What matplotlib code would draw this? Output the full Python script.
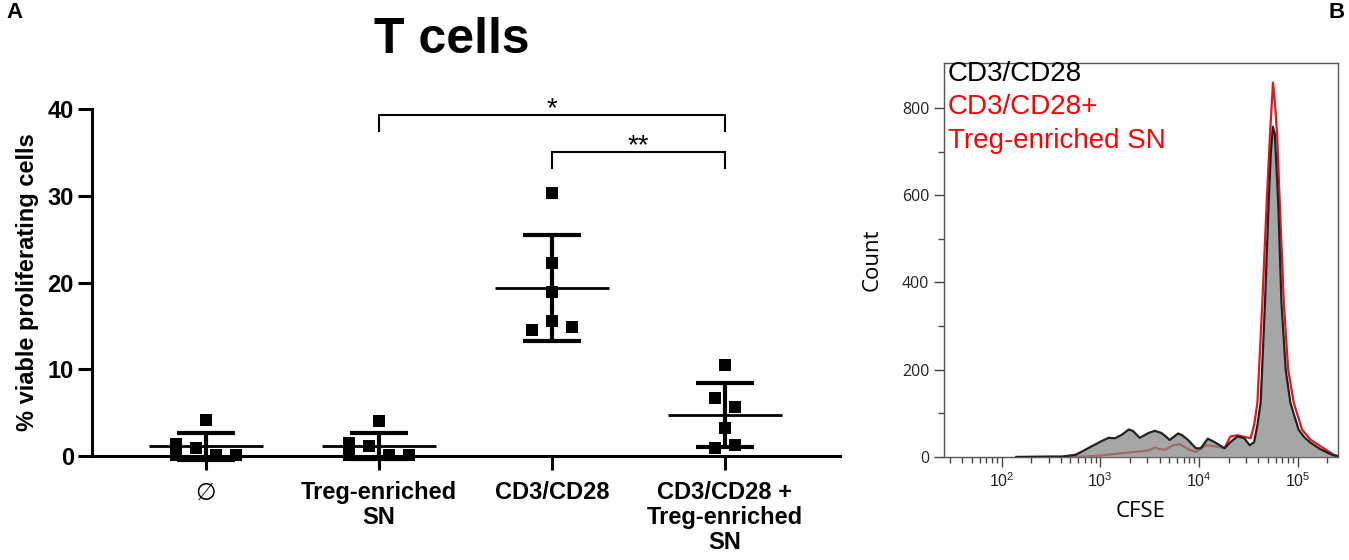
import numpy as np
import matplotlib
matplotlib.use("Agg")
import matplotlib.pyplot as plt
from matplotlib.ticker import FixedLocator, FixedFormatter, LogLocator, NullFormatter

# ---------------- data ----------------
groups = ["\u2205", "Treg-enriched\nSN", "CD3/CD28", "CD3/CD28 +\nTreg-enriched\nSN"]
g_none = [1.4, 0.1, 0.9, 4.15, 0.1, 0.1]
g_treg = [1.5, 0.1, 1.2, 4.0, 0.1, 0.1]
g_cd3 = [30.3, 22.2, 18.95, 15.6, 14.5, 14.85]
g_cd3_treg = [10.5, 6.65, 5.7, 3.2, 0.9, 1.27]
yticks_a = [0, 10, 20, 30, 40]
sig_pairs = [(1, 3, 39.3, "*"), (2, 3, 35.0, "**")]

cfse_log_black = [2.15, 2.49, 2.61, 2.75, 2.81, 2.91, 3.01, 3.085, 3.15, 3.22, 3.29, 3.33,
                  3.37, 3.40, 3.49, 3.555, 3.62, 3.66, 3.705, 3.79, 3.83, 3.89, 3.97, 4.02,
                  4.09, 4.16, 4.26, 4.32, 4.39, 4.46, 4.515, 4.56, 4.593, 4.626, 4.67, 4.707,
                  4.73, 4.75, 4.77, 4.804, 4.837, 4.88, 4.928, 5.01, 5.07, 5.13, 5.23, 5.36, 5.41]
count_black = [0, 1, 1, 5, 12, 24, 36, 44, 43, 51, 63, 60,
               51, 44, 55, 60, 55, 48, 39, 54, 50, 39, 20, 20,
               42, 34, 20, 34, 47, 43, 27, 34, 73, 124, 353, 582,
               700, 757, 740, 582, 353, 200, 124, 63, 45, 33, 18, 4, 2]
cfse_log_red = [2.15, 2.6, 2.85, 2.99, 3.15, 3.32, 3.49, 3.555, 3.60, 3.66, 3.74, 3.81,
                3.91, 3.97, 4.07, 4.17, 4.26, 4.32, 4.39, 4.46, 4.525, 4.56, 4.593, 4.643,
                4.687, 4.72, 4.751, 4.775, 4.794, 4.82, 4.861, 4.905, 4.962, 5.045, 5.13,
                5.23, 5.36, 5.41]
count_red = [0, 0, 1, 3, 7, 11, 15, 22, 18, 17, 27, 29,
             16, 12, 27, 24, 20, 47, 50, 46, 43, 73, 124, 353,
             582, 735, 858, 800, 735, 582, 353, 200, 124, 63, 40,
             25, 6, 2]
yticks_b = [0, 200, 400, 600, 800]
xticks_b = [1e2, 1e3, 1e4, 1e5]
xticklabels_b = [r"$\mathregular{10^{2}}$", r"$\mathregular{10^{3}}$",
                 r"$\mathregular{10^{4}}$", r"$\mathregular{10^{5}}$"]

# ---------------- style ----------------
plt.rcParams["font.family"] = ["Liberation Sans", "DejaVu Sans"]
plt.rcParams["mathtext.fontset"] = "custom"
plt.rcParams["mathtext.rm"] = "Open Sans"

fig = plt.figure(figsize=(13.49, 5.6), dpi=100)

# ---------------- panel A ----------------
axA = fig.add_axes([92 / 1349, 1 - 456 / 560, (840 - 92) / 1349, (456 - 109) / 560])
data = [g_none, g_treg, g_cd3, g_cd3_treg]
offsets = [
    [-0.173, -0.173, -0.058, 0.0, 0.058, 0.173],
    [-0.173, -0.173, -0.058, 0.0, 0.058, 0.173],
    [0.0, 0.0, 0.0, 0.0, -0.116, 0.116],
    [0.0, -0.058, 0.058, 0.0, -0.058, 0.058],
]
for i, vals in enumerate(data):
    v = np.asarray(vals)
    m = v.mean()
    sd = v.std(ddof=1)
    axA.scatter(i + np.asarray(offsets[i]), v, marker="s", s=70, color="black",
                zorder=4, clip_on=False, linewidths=0)
    axA.plot([i - 0.33, i + 0.33], [m, m], color="black", lw=2.0, zorder=3,
             solid_capstyle="butt", clip_on=False)
    axA.plot([i, i], [m - sd, m + sd], color="black", lw=3.0, zorder=3,
             solid_capstyle="butt", clip_on=False)
    for y in (m - sd, m + sd):
        axA.plot([i - 0.165, i + 0.165], [y, y], color="black", lw=3.0, zorder=3,
                 solid_capstyle="butt", clip_on=False)

for a, b, y, s in sig_pairs:
    axA.plot([a, a, b, b], [y - 1.8, y, y, y - 1.8], color="black", lw=1.5,
             clip_on=False, solid_joinstyle="miter")
    axA.text((a + b) / 2, y - 0.15, s, ha="center", va="baseline", fontsize=20,
             clip_on=False)

axA.set_xlim(-0.659, 3.665)
axA.set_ylim(0, 40)
axA.spines["top"].set_visible(False)
axA.spines["right"].set_visible(False)
for sp in ("left", "bottom"):
    axA.spines[sp].set_linewidth(2.2)
axA.set_yticks(yticks_a)
axA.set_yticklabels([str(t) for t in yticks_a], fontsize=17, fontweight="bold")
axA.set_xticks(range(len(groups)))
axA.set_xticklabels(groups, fontsize=17, fontweight="bold", linespacing=1.1,
                    va="top")
axA.get_xticklabels()[0].set_fontweight("normal")
axA.get_xticklabels()[0].set_family(["DejaVu Sans"])
axA.tick_params(axis="both", direction="out", length=10, width=2.2)
axA.tick_params(axis="x", pad=8)
axA.tick_params(axis="y", pad=3)
axA.set_ylabel("% viable proliferating cells", fontsize=17, fontweight="bold",
               labelpad=6)
axA.set_facecolor("none")

fig.text(452 / 1349, 1 - 40 / 560, "T cells", fontsize=36, fontweight="bold",
         ha="center", va="center")
fig.text(6 / 1349, 1 - 12 / 560, "A", fontsize=16, fontweight="bold",
         ha="left", va="center")
fig.text(1345 / 1349, 1 - 12 / 560, "B", fontsize=16, fontweight="bold",
         ha="right", va="center")

# ---------------- panel B ----------------
axB = fig.add_axes([944 / 1349, 1 - 457 / 560, (1338 - 944) / 1349, (457 - 63) / 560])
xb = 10 ** np.asarray(cfse_log_black)
xr = 10 ** np.asarray(cfse_log_red)
axB.plot(xr, count_red, color="#e8151b", lw=1.6, zorder=2)
axB.fill_between(xb, 0, count_black, color="#888888", alpha=0.75, lw=0, zorder=3)
axB.plot(xb, count_black, color="#222222", lw=1.6, zorder=4)

axB.set_xscale("log")
axB.set_xlim(10 ** 1.417, 10 ** 5.41)
axB.set_ylim(0, 903)
axB.xaxis.set_major_locator(FixedLocator(xticks_b))
axB.xaxis.set_major_formatter(FixedFormatter(xticklabels_b))
axB.xaxis.set_minor_locator(LogLocator(base=10, subs=np.arange(2, 10)))
axB.xaxis.set_minor_formatter(NullFormatter())
axB.set_yticks(yticks_b)
axB.set_yticks([100, 300, 500, 700], minor=True)
for sp in axB.spines.values():
    sp.set_color("#555555")
    sp.set_linewidth(1.0)
axB.tick_params(axis="both", which="major", direction="out", length=7, width=1,
                color="#444444", labelsize=11.5, labelcolor="#222222")
axB.tick_params(axis="both", which="minor", direction="out", length=4, width=1,
                color="#444444")
for lab in axB.get_yticklabels():
    lab.set_family(["Open Sans", "DejaVu Sans"])
axB.set_xlabel("CFSE", fontsize=16, family=["Open Sans", "DejaVu Sans"], labelpad=8)
axB.set_ylabel("Count", fontsize=16, family=["Open Sans", "DejaVu Sans"], labelpad=14)

axB.text(0.01, 0.955, "CD3/CD28", transform=axB.transAxes, fontsize=20,
         color="black", ha="left", va="baseline")
axB.text(0.01, 0.955 - 33.5 / 394, "CD3/CD28+", transform=axB.transAxes, fontsize=20,
         color="#ff0000", ha="left", va="baseline")
axB.text(0.01, 0.955 - 67 / 394, "Treg-enriched SN", transform=axB.transAxes,
         fontsize=20, color="#ff0000", ha="left", va="baseline")

fig.savefig("out.png", dpi=100)
